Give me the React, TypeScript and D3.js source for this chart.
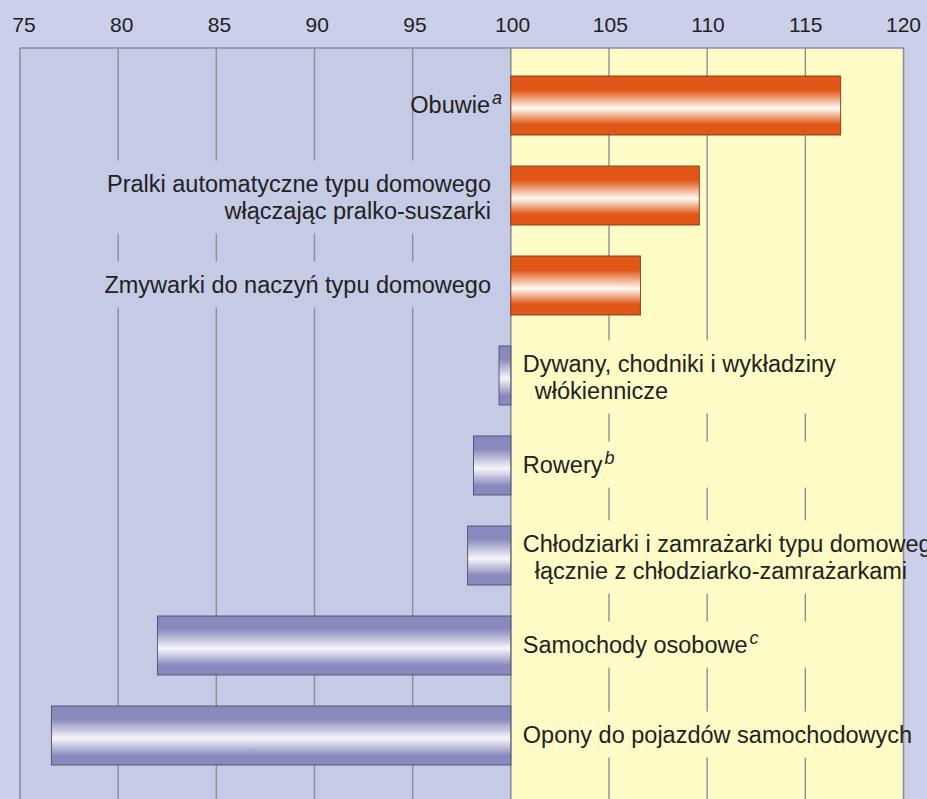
import React from 'react';
import * as d3 from 'd3';

const labels = [
  ['Obuwie'],
  ['Pralki automatyczne typu domowego', 'włączając pralko-suszarki'],
  ['Zmywarki do naczyń typu domowego'],
  ['Dywany, chodniki i wykładziny', 'włókiennicze'],
  ['Rowery'],
  ['Chłodziarki i zamrażarki typu domowego', 'łącznie z chłodziarko-zamrażarkami'],
  ['Samochody osobowe'],
  ['Opony do pojazdów samochodowych'],
];
const notes = ['a', '', '', '', 'b', '', 'c', ''];
const values = [116.8, 109.6, 106.6, 99.4, 98.1, 97.8, 82.0, 76.6];
const breakGrid = [false, true, true, true, true, true, true, true];
const xTicks = [75, 80, 85, 90, 95, 100, 105, 110, 115, 120];

const W = 927;
const H = 799;
const BG = '#cbcfe9';
const LEFT_BG = '#c5cae5';
const RIGHT_BG = '#fffbc7';
const GRID = '#8d8e9c';
const FONT = '"Liberation Sans", Arial, sans-serif';

const App = () => {
  const x = d3.scaleLinear().domain([75, 120]).range([20, 903.5]);
  const keys = labels.map((l) => l.join(' '));
  const y = d3.scaleBand().domain(keys).range([60.5, 780.5]).paddingInner(31 / 90).paddingOuter(31 / 180);
  const top = 48;
  const base = 100;

  return (
    <svg width={W} height={H} style={{ position: 'absolute', left: 0, top: 0 }} fontFamily={FONT}>
      <defs>
        <linearGradient id="gOrange" x1="0" y1="0" x2="0" y2="1">
          <stop offset="0" stopColor="#e05718" />
          <stop offset="0.24" stopColor="#e05718" />
          <stop offset="0.55" stopColor="#fffaf4" />
          <stop offset="0.82" stopColor="#e05718" />
          <stop offset="1" stopColor="#e05718" />
        </linearGradient>
        <linearGradient id="gPurple" x1="0" y1="0" x2="0" y2="1">
          <stop offset="0" stopColor="#8a89bd" />
          <stop offset="0.22" stopColor="#8a89bd" />
          <stop offset="0.55" stopColor="#f6f6fb" />
          <stop offset="0.84" stopColor="#8a89bd" />
          <stop offset="1" stopColor="#8a89bd" />
        </linearGradient>
      </defs>
      <rect x={0} y={0} width={W} height={H} fill={BG} />
      <rect x={x(75)} y={top} width={x(base) - x(75)} height={H - top} fill={LEFT_BG} />
      <rect x={x(base)} y={top} width={x(120) - x(base)} height={H - top} fill={RIGHT_BG} />

      {/* inner grid lines */}
      {xTicks.filter((t) => t !== 75 && t !== 100 && t !== 120).map((t) => (
        <line key={t} x1={x(t)} x2={x(t)} y1={top} y2={H} stroke={GRID} strokeWidth={1.4} />
      ))}

      {/* label boxes interrupt the grid */}
      {keys.map((k, i) => {
        if (!breakGrid[i]) return null;
        const c = y(k)! + y.bandwidth() / 2;
        const n = labels[i].length;
        const first = n > 1 ? c - 4 : c + 7;
        const last = first + (n - 1) * 27;
        const left = values[i] > base;
        const x0 = left ? x(75) + 1.5 : x(base) + 1;
        const x1 = left ? x(base) - 1 : x(120) - 1;
        return (
          <rect key={k} x={x0} y={first - 31} width={x1 - x0} height={last - first + 46}
            fill={left ? LEFT_BG : RIGHT_BG} />
        );
      })}

      {/* frame */}
      <line x1={x(75)} x2={x(120)} y1={top} y2={top} stroke={GRID} strokeWidth={1.4} />
      {[75, 100, 120].map((t) => (
        <line key={t} x1={x(t)} x2={x(t)} y1={top} y2={H} stroke={GRID} strokeWidth={1.6} />
      ))}

      {/* tick labels */}
      {xTicks.map((t) => (
        <text key={t} x={x(t) + 4 * (120 - t) / 45} y={32} fontSize={21} textAnchor="middle" fill="#222">
          {t}
        </text>
      ))}

      {/* bars */}
      {keys.map((k, i) => {
        const v = values[i];
        const up = v > base;
        return (
          <rect key={k}
            x={x(Math.min(v, base))}
            y={y(k)}
            width={Math.abs(x(v) - x(base))}
            height={y.bandwidth()}
            fill={up ? 'url(#gOrange)' : 'url(#gPurple)'}
            stroke={up ? '#7a3a1c' : '#4e4e6a'}
            strokeWidth={0.9} />
        );
      })}

      {/* category labels */}
      {keys.map((k, i) => {
        const c = y(k)! + y.bandwidth() / 2;
        const n = labels[i].length;
        const first = n > 1 ? c - 4 : c + 7;
        const left = values[i] > base;
        return labels[i].map((line, j) => {
          const sup = j === 0 && notes[i] ? notes[i] : '';
          const tx = left ? (sup ? 502 : 491) : x(base) + 12 + (j > 0 ? 12 : 0);
          return (
            <text key={k + j} x={tx} y={first + j * 27} fontSize={23.5}
              textAnchor={left ? 'end' : 'start'} fill="#222">
              {line}
              {sup && (
                <tspan dx={2} dy={-9} fontSize={18} fontStyle="italic">{sup}</tspan>
              )}
            </text>
          );
        });
      })}
    </svg>
  );
};

export default App;
